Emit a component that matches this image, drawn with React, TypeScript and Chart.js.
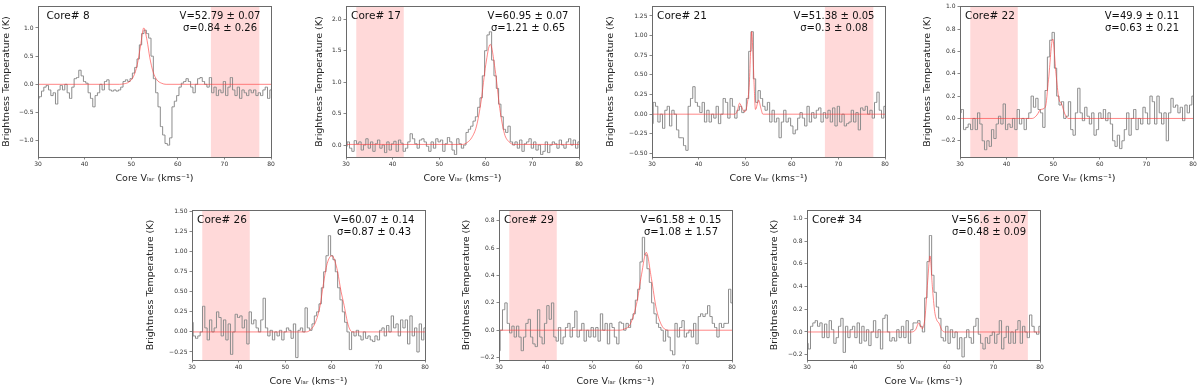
import React, { useEffect, useRef } from "react";
import { Chart, registerables } from "chart.js";

Chart.register(...registerables);

// ---------------- DATA ----------------
const VELOCITY = [
  30, 30.5, 31, 31.5, 32, 32.5, 33, 33.5, 34, 34.5,
  35, 35.5, 36, 36.5, 37, 37.5, 38, 38.5, 39, 39.5,
  40, 40.5, 41, 41.5, 42, 42.5, 43, 43.5, 44, 44.5,
  45, 45.5, 46, 46.5, 47, 47.5, 48, 48.5, 49, 49.5,
  50, 50.5, 51, 51.5, 52, 52.5, 53, 53.5, 54, 54.5,
  55, 55.5, 56, 56.5, 57, 57.5, 58, 58.5, 59, 59.5,
  60, 60.5, 61, 61.5, 62, 62.5, 63, 63.5, 64, 64.5,
  65, 65.5, 66, 66.5, 67, 67.5, 68, 68.5, 69, 69.5,
  70, 70.5, 71, 71.5, 72, 72.5, 73, 73.5, 74, 74.5,
  75, 75.5, 76, 76.5, 77, 77.5, 78, 78.5, 79, 79.5,
  80,
];

const SPEC_8 = [
  -0.25, -0.22, -0.12, -0.05, -0.02, -0.1, -0.2, -0.15, -0.35, -0.1,
  -0.02, -0.1, 0.0, -0.15, -0.25, -0.05, 0.1, 0.12, 0.25, 0.15,
  0.05, 0.02, -0.15, -0.25, -0.4, -0.2, -0.15, 0.0, -0.1, 0.05,
  0.08, -0.1, -0.12, -0.1, -0.12, -0.1, -0.05, 0.05, 0.08, 0.05,
  0.1, 0.2, 0.3, 0.45, 0.7, 0.9, 0.96, 0.9, 0.82, 0.5,
  0.1, -0.15, -0.4, -0.75, -0.9, -1.05, -1.08, -0.95, -0.4, -0.3,
  -0.2, -0.05, 0.02, 0.05, 0.1, 0.05, -0.05, -0.15, 0.0, 0.1,
  0.12, 0.05, 0.0, -0.05, 0.12, -0.15, -0.05, -0.2, -0.1, -0.15,
  0.05, -0.2, -0.05, 0.12, -0.1, -0.2, -0.05, -0.25, -0.1, -0.15,
  -0.2, -0.1, -0.15, -0.1, -0.2, -0.15, -0.2, -0.1, -0.05, -0.25,
  -0.1,
];

const SPEC_17 = [
  -0.02, 0.05, -0.05, -0.1, 0.07, 0.02, 0.05, -0.08, 0.0, 0.1,
  -0.05, 0.05, -0.1, 0.02, 0.08, -0.05, 0.0, -0.12, 0.05, -0.08,
  0.02, 0.06, -0.1, 0.08, 0.03, -0.1, -0.05, 0.05, 0.18, 0.1,
  0.02, -0.05, 0.08, 0.1, 0.05, -0.02, -0.1, 0.05, -0.05, 0.1,
  0.05, 0.08, -0.1, 0.02, 0.12, 0.05, -0.08, -0.15, 0.1, 0.02,
  -0.05, 0.0, 0.2, 0.25, 0.3, 0.38, 0.45, 0.6, 0.75, 1.1,
  1.5, 1.75, 1.8, 1.35, 1.1, 0.9, 0.65, 0.45, 0.25, 0.2,
  0.3, 0.05, 0.0, 0.05, -0.05, 0.08, -0.1, 0.02, 0.05, 0.1,
  -0.05, 0.05, -0.08, 0.0, -0.15, -0.1, 0.05, -0.12, 0.0, 0.05,
  0.02, -0.05, 0.08, 0.0, -0.05, 0.05, 0.1, 0.0, 0.08, -0.05,
  0.05,
];

const SPEC_21 = [
  -0.12, 0.15, 0.1, -0.1, 0.0, -0.18, 0.05, 0.1, -0.15, 0.05,
  0.0, -0.2, -0.3, -0.3, -0.4, -0.46, 0.1, 0.2, 0.35, 0.15,
  0.1, 0.02, 0.15, -0.1, 0.05, -0.1, 0.0, -0.05, 0.1, -0.12,
  0.0, 0.2, 0.15, -0.05, 0.2, 0.1, -0.05, 0.05, 0.1, 0.02,
  0.05, 0.2, 0.8, 1.05, 0.45, 0.15, 0.3, 0.2, 0.1, 0.05,
  0.15, -0.1, 0.05, -0.1, -0.05, -0.3, -0.1, 0.05, -0.1, -0.05,
  -0.15, -0.25, -0.2, -0.05, 0.02, -0.05, -0.15, 0.1, -0.1, 0.02,
  -0.05, 0.05, 0.08, -0.1, 0.02, -0.05, 0.05, -0.1, 0.08, -0.15,
  0.1, -0.1, 0.0, -0.15, -0.12, -0.1, 0.05, -0.1, 0.02, -0.2,
  0.08, 0.05, 0.1, 0.0, 0.05, -0.05, 0.15, 0.28, 0.05, -0.05,
  0.1,
];

const SPEC_22 = [
  0.05, 0.08, -0.1, -0.08, -0.05, -0.1, 0.0, -0.1, 0.05, -0.05,
  -0.2, -0.28, -0.2, -0.25, -0.1, -0.18, -0.05, 0.02, -0.05, 0.13,
  -0.1, -0.05, -0.08, 0.0, -0.1, 0.08, -0.05, 0.0, -0.1, 0.0,
  0.05, 0.2, 0.1, 0.18, 0.08, 0.05, -0.08, 0.25, 0.55, 0.7,
  0.77, 0.45, 0.2, 0.12, 0.15, 0.0, 0.02, 0.15, -0.1, -0.15,
  0.05, 0.27, 0.05, -0.02, 0.1, 0.02, -0.05, 0.05, -0.15, -0.1,
  0.05, 0.0, 0.08, -0.02, 0.05, -0.05, -0.2, -0.25, -0.15, -0.27,
  -0.2, -0.1, 0.05, -0.15, 0.0, 0.08, -0.1, 0.0, -0.05, 0.1,
  0.05, -0.05, 0.2, 0.15, -0.05, 0.2, 0.05, -0.05, 0.05, -0.2,
  0.05, 0.18, 0.1, 0.12, 0.05, 0.1, -0.02, 0.12, 0.05, 0.12,
  0.2,
];

const SPEC_26 = [
  0.12, -0.05, -0.08, -0.05, 0.0, 0.32, 0.05, -0.1, 0.15, 0.0,
  0.05, 0.25, 0.18, -0.05, 0.15, -0.1, 0.1, -0.28, 0.0, 0.22,
  0.18, 0.2, 0.05, 0.15, -0.15, 0.25, 0.1, 0.15, 0.05, 0.0,
  0.15, 0.42, 0.05, -0.05, 0.02, -0.1, 0.0, -0.05, 0.02, -0.1,
  0.0, 0.05, 0.02, -0.08, 0.1, -0.32, 0.02, 0.05, 0.0, 0.3,
  0.05, 0.02, 0.1, 0.2, 0.25, 0.35, 0.55, 0.75, 0.95, 1.2,
  0.95, 0.9, 0.75, 0.55, 0.4, 0.25, 0.12, 0.0, -0.22, 0.0,
  -0.05, 0.02, -0.05, -0.1, 0.0, -0.08, -0.05, -0.1, -0.12, -0.05,
  -0.1, 0.02, 0.05, -0.05, 0.08, 0.0, 0.2, 0.05, 0.1, -0.05,
  0.15, 0.05, 0.15, -0.15, 0.2, -0.05, 0.05, -0.25, 0.1, -0.1,
  0.05,
];

const SPEC_29 = [
  -0.15, 0.0, 0.15, 0.2, 0.05, -0.02, 0.03, -0.05, 0.03, -0.05,
  -0.15, -0.05, 0.05, 0.08, -0.05, -0.1, -0.12, 0.15, -0.05, -0.1,
  0.05, 0.18, 0.08, 0.2, -0.05, -0.08, 0.02, -0.1, -0.05, 0.02,
  0.05, -0.05, 0.02, 0.14, -0.05, 0.0, 0.05, -0.08, 0.0, -0.05,
  0.02, -0.05, 0.02, -0.08, 0.12, 0.0, 0.05, -0.1, 0.05, 0.02,
  -0.05, -0.1, 0.06, 0.05, 0.0, 0.05, 0.02, 0.08, 0.12, 0.22,
  0.3, 0.5, 0.68, 0.55, 0.45, 0.35, 0.2, 0.12, 0.05, 0.02,
  0.0, -0.08, 0.0, -0.05, -0.15, -0.18, 0.05, -0.05, 0.02, 0.07,
  -0.05, -0.02, 0.0, -0.05, 0.05, -0.1, 0.1, 0.12, 0.1, 0.12,
  0.18, 0.1, 0.05, 0.02, -0.05, 0.05, 0.02, 0.05, 0.05, 0.3,
  0.2,
];

const SPEC_34 = [
  -0.1, -0.15, 0.05, 0.08, 0.1, 0.05, 0.08, -0.05, 0.07, -0.05,
  0.1, 0.02, -0.1, -0.05, 0.05, 0.12, -0.18, 0.05, -0.05, 0.02,
  0.05, -0.05, 0.08, -0.1, 0.05, -0.08, 0.02, -0.12, 0.0, 0.1,
  -0.05, 0.02, -0.15, 0.12, 0.15, 0.0, -0.08, -0.05, -0.08, 0.02,
  -0.05, 0.05, -0.05, 0.1, -0.1, 0.02, 0.08, 0.08, 0.1, 0.05,
  0.0, 0.3, 0.62, 0.85, 0.5, 0.35, 0.22, 0.12, -0.05, -0.08,
  0.05, -0.1, 0.02, -0.05, 0.0, -0.15, -0.05, -0.22, -0.05, 0.02,
  -0.05, -0.1, 0.05, 0.12, -0.02, -0.1, -0.15, -0.05, -0.1, -0.03,
  0.0, -0.1, -0.02, 0.1, -0.15, -0.05, 0.05, -0.1, 0.0, -0.1,
  0.02, 0.1, -0.1, 0.05, 0.0, -0.05, 0.15, 0.05, 0.0, -0.02,
  0.05,
];

// Fitted profiles (velocity / brightness pairs)
const FIT_8_V = [30, 47.5, 48.5, 49.5, 50.5, 51.3, 52, 52.7, 53.4, 54, 54.7, 55.5, 56.5, 57.5, 80];
const FIT_8_T = [0, 0, 0.01, 0.04, 0.14, 0.35, 0.68, 1.0, 0.78, 0.47, 0.22, 0.08, 0.02, 0, 0];

const FIT_17_V = [30, 55, 56, 57, 58, 59, 60, 60.95, 62, 63, 64, 65, 66, 80];
const FIT_17_T = [0.01, 0.01, 0.04, 0.12, 0.3, 0.7, 1.28, 1.6, 1.2, 0.58, 0.18, 0.05, 0.01, 0.01];

const FIT_21_V = [30, 47.8, 48.3, 48.8, 49.3, 49.9, 50.4, 50.9, 51.15, 51.4, 51.65, 51.9, 52.2, 52.9, 53.3, 53.8, 80];
const FIT_21_T = [0, 0, 0.04, 0.14, 0.08, 0.03, 0.12, 0.4, 0.78, 1.05, 0.78, 0.4, 0.06, 0.18, 0.09, 0, 0];

const FIT_22_V = [30, 45.5, 46.5, 47.3, 48.3, 49, 49.9, 50.6, 51.2, 51.8, 52.5, 53.2, 80];
const FIT_22_T = [0, 0, 0.03, 0.08, 0.1, 0.35, 0.71, 0.4, 0.18, 0.13, 0.04, 0, 0];

const FIT_26_V = [30, 54.5, 55.5, 56.5, 57.5, 58.2, 59, 60.0, 61.1, 62, 62.5, 63.6, 64.5, 80];
const FIT_26_T = [0, 0, 0.03, 0.12, 0.33, 0.6, 0.85, 0.95, 0.79, 0.5, 0.37, 0.07, 0, 0];

const FIT_29_V = [30, 56, 57, 58.1, 59.5, 60.6, 61.6, 62.7, 63.8, 65.2, 66.5, 80];
const FIT_29_T = [0, 0, 0.01, 0.04, 0.19, 0.41, 0.57, 0.38, 0.15, 0.02, 0, 0];

const FIT_34_V = [30, 52.5, 53.3, 54.0, 54.7, 55.3, 55.9, 56.4, 56.9, 57.4, 57.9, 58.3, 58.9, 59.5, 80];
const FIT_34_T = [0, 0, 0.02, 0.08, 0.03, 0.12, 0.45, 0.67, 0.4, 0.18, 0.1, 0.08, 0.02, 0, 0];

const CORE_LABELS = ["Core# 8", "Core# 17", "Core# 21", "Core# 22", "Core# 26", "Core# 29", "Core# 34"];
const V_TEXTS = ["V=52.79 ± 0.07", "V=60.95 ± 0.07", "V=51.38 ± 0.05", "V=49.9 ± 0.11", "V=60.07 ± 0.14", "V=61.58 ± 0.15", "V=56.6 ± 0.07"];
const SIGMA_TEXTS = ["σ=0.84 ± 0.26", "σ=1.21 ± 0.65", "σ=0.3 ± 0.08", "σ=0.63 ± 0.21", "σ=0.87 ± 0.43", "σ=1.08 ± 1.57", "σ=0.48 ± 0.09"];

const SHADE_FROM = [67.1, 32.2, 67.1, 32.2, 32.2, 32.2, 67.1];
const SHADE_TO = [77.5, 42.4, 77.5, 42.4, 42.4, 42.4, 77.4];

const Y_MIN = [-1.29, -0.19, -0.545, -0.345, -0.35, -0.218, -0.247];
const Y_MAX = [1.39, 2.21, 1.377, 1.006, 1.52, 0.88, 1.075];
const Y_TICKS = [
  [-1.0, -0.5, 0, 0.5, 1.0],
  [0, 0.5, 1.0, 1.5, 2.0],
  [-0.5, -0.25, 0, 0.25, 0.5, 0.75, 1.0, 1.25],
  [-0.2, 0, 0.2, 0.4, 0.6, 0.8, 1.0],
  [-0.25, 0, 0.25, 0.5, 0.75, 1.0, 1.25, 1.5],
  [-0.2, 0, 0.2, 0.4, 0.6, 0.8],
  [-0.2, 0, 0.2, 0.4, 0.6, 0.8, 1.0],
];
const Y_DECIMALS = [1, 1, 2, 1, 2, 1, 1];
const X_MIN = 30;
const X_MAX = 80;
const X_TICKS = [30, 40, 50, 60, 70, 80];

const X_LABEL = "Core Vₗₛᵣ (kms⁻¹)";
const Y_LABEL = "Brightness Temperature (K)";

const SPECTRA = [SPEC_8, SPEC_17, SPEC_21, SPEC_22, SPEC_26, SPEC_29, SPEC_34];
const FITS_V = [FIT_8_V, FIT_17_V, FIT_21_V, FIT_22_V, FIT_26_V, FIT_29_V, FIT_34_V];
const FITS_T = [FIT_8_T, FIT_17_T, FIT_21_T, FIT_22_T, FIT_26_T, FIT_29_T, FIT_34_T];

// ---------------- LAYOUT / STYLE ----------------
const PLOT_LEFT = [38, 346, 652, 960, 192, 499, 807];
const PLOT_TOP = [6, 6, 6, 6, 210, 210, 210];
const PLOT_W = 233;
const PLOT_H = [151, 151, 151, 151, 150, 150, 150];
const Y_AXIS_W = [40, 40, 46, 40, 46, 40, 40];
const Y_TITLE_CENTER = [9, 14, 4.5, 8, 4.5, 8, 8];
const PAD_TOP = 6;
const PAD_RIGHT = 8;
const X_AXIS_H = 30;

const FONT = "'DejaVu Sans', sans-serif";
const FRAME_COLOR = "#6a6a6a";
const SPEC_COLOR = "#8c8c8c";
const FIT_COLOR = "rgba(255, 60, 60, 0.62)";
const SHADE_COLOR = "rgba(255, 0, 0, 0.15)";

function Panel({ idx }: { idx: number }) {
  const ref = useRef<HTMLCanvasElement | null>(null);
  const yw = Y_AXIS_W[idx];
  const cw = yw + PLOT_W + PAD_RIGHT;
  const ch = PAD_TOP + PLOT_H[idx] + X_AXIS_H;
  const cl = PLOT_LEFT[idx] - yw;
  const ct = PLOT_TOP[idx] - PAD_TOP;

  useEffect(() => {
    if (!ref.current) return;
    const shadePlugin = {
      id: "shade" + idx,
      beforeDatasetsDraw(chart: any) {
        const { ctx, chartArea, scales } = chart;
        const x1 = scales.x.getPixelForValue(SHADE_FROM[idx]);
        const x2 = scales.x.getPixelForValue(SHADE_TO[idx]);
        ctx.save();
        ctx.fillStyle = SHADE_COLOR;
        ctx.fillRect(x1, chartArea.top, x2 - x1, chartArea.bottom - chartArea.top);
        ctx.restore();
      },
    };
    const framePlugin = {
      id: "frame" + idx,
      afterDatasetsDraw(chart: any) {
        const { ctx, chartArea } = chart;
        ctx.save();
        ctx.strokeStyle = FRAME_COLOR;
        ctx.lineWidth = 1;
        ctx.strokeRect(
          Math.round(chartArea.left) + 0.5,
          Math.round(chartArea.top) + 0.5,
          Math.round(chartArea.right - chartArea.left),
          Math.round(chartArea.bottom - chartArea.top)
        );
        ctx.fillStyle = "#111";
        ctx.textBaseline = "middle";
        ctx.textAlign = "center";
        ctx.font = `10.5px ${FONT}`;
        ctx.fillText(CORE_LABELS[idx], chartArea.left + 30, chartArea.top + 10.5);
        ctx.font = `10px ${FONT}`;
        ctx.fillText(V_TEXTS[idx], chartArea.left + 182, chartArea.top + 10);
        ctx.fillText(SIGMA_TEXTS[idx], chartArea.left + 182, chartArea.top + 22);
        ctx.restore();
      },
    };

    const chart = new Chart(ref.current, {
      type: "line",
      data: {
        datasets: [
          {
            data: FITS_V[idx].map((v, i) => ({ x: v, y: FITS_T[idx][i] })),
            borderColor: FIT_COLOR,
            borderWidth: 1,
            pointRadius: 0,
            cubicInterpolationMode: "monotone",
            fill: false,
          },
          {
            data: VELOCITY.map((v, i) => ({ x: v, y: SPECTRA[idx][i] })),
            borderColor: SPEC_COLOR,
            borderWidth: 1,
            pointRadius: 0,
            stepped: "middle",
            fill: false,
          },
        ],
      } as any,
      options: {
        animation: false,
        responsive: false,
        events: [],
        layout: { padding: { left: 0, top: PAD_TOP, right: PAD_RIGHT, bottom: 0 } },
        plugins: {
          legend: { display: false },
          tooltip: { enabled: false },
          title: { display: false },
        },
        scales: {
          x: {
            type: "linear",
            min: X_MIN,
            max: X_MAX,
            afterFit: (s: any) => {
              s.height = X_AXIS_H;
            },
            afterBuildTicks: (s: any) => {
              s.ticks = X_TICKS.map((v) => ({ value: v }));
            },
            ticks: {
              font: { family: FONT, size: 6 },
              color: "#333",
              padding: 1.5,
              maxRotation: 0,
              autoSkip: false,
              callback: (v: any) => String(v),
            },
            grid: {
              drawOnChartArea: false,
              drawTicks: true,
              tickLength: 2.5,
              color: FRAME_COLOR,
              lineWidth: 0.8,
            },
            border: { display: false },
            title: {
              display: true,
              text: X_LABEL,
              color: "#222",
              font: { family: FONT, size: 9.5 },
              padding: { top: 0, bottom: 3 },
            },
          },
          y: {
            type: "linear",
            min: Y_MIN[idx],
            max: Y_MAX[idx],
            afterFit: (s: any) => {
              s.width = yw;
            },
            afterBuildTicks: (s: any) => {
              s.ticks = Y_TICKS[idx].map((v) => ({ value: v }));
            },
            ticks: {
              font: { family: FONT, size: 6 },
              color: "#333",
              padding: 2,
              autoSkip: false,
              callback: (v: any) => Number(v).toFixed(Y_DECIMALS[idx]).replace("-", "−"),
            },
            grid: {
              drawOnChartArea: false,
              drawTicks: true,
              tickLength: 2.5,
              color: FRAME_COLOR,
              lineWidth: 0.8,
            },
            border: { display: false },
            title: {
              display: true,
              text: Y_LABEL,
              color: "#222",
              font: { family: FONT, size: 9.5 },
              padding: { top: Y_TITLE_CENTER[idx] - 5.7, bottom: 0 },
            },
          },
        },
      } as any,
      plugins: [shadePlugin, framePlugin],
    });
    return () => chart.destroy();
  }, [idx]);

  return (
    <canvas
      ref={ref}
      width={cw}
      height={ch}
      style={{ position: "absolute", left: cl, top: ct, width: cw, height: ch }}
    />
  );
}

export default function App() {
  return (
    <div
      style={{
        position: "absolute",
        left: 0,
        top: 0,
        width: 1200,
        height: 386,
        overflow: "hidden",
        background: "#fff",
      }}
    >
      {CORE_LABELS.map((_, i) => (
        <Panel key={i} idx={i} />
      ))}
    </div>
  );
}
